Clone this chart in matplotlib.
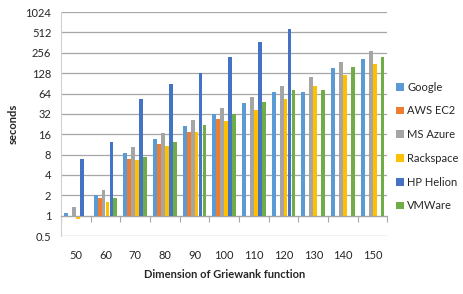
import numpy as np
import matplotlib
matplotlib.use('Agg')
import matplotlib.pyplot as plt
import matplotlib.ticker as ticker

plt.rcParams['font.family'] = ['Lato', 'DejaVu Sans']

# Data (nan = no bar)
dims = [50, 60, 70, 80, 90, 100, 110, 120, 130, 140, 150]
google = [1.09, 2.0, 8.4, 13.6, 21, 31.8, 45.8, 66.7, 66.7, 151, 205]
aws_ec2 = [0.97, 1.81, 7.0, 11.5, 17.4, 26.6, np.nan, np.nan, np.nan, np.nan, np.nan]
ms_azure = [1.33, 2.37, 10.3, 16.7, 26, 38.7, 56, 83.3, 112, 189, 269]
rackspace = [0.9, 1.61, 6.65, 10.8, 17.1, 25.1, 36.5, 53, 81.7, 119, 175]
hp_helion = [6.8, 12.1, 53, 87.5, 128, 224, 365, 575, np.nan, np.nan, np.nan]
vmware = [0.98, 1.81, 7.3, 12.2, 21.7, 31.4, 47.5, 72.8, 72.8, 158, 219]

series = [
    ('Google', google, '#5B9BD5'),
    ('AWS EC2', aws_ec2, '#ED7D31'),
    ('MS Azure', ms_azure, '#A5A5A5'),
    ('Rackspace', rackspace, '#FFC000'),
    ('HP Helion', hp_helion, '#4472C4'),
    ('VMWare', vmware, '#70AD47'),
]
yticks = [0.5, 1, 2, 4, 8, 16, 32, 64, 128, 256, 512, 1024]

fig = plt.figure(figsize=(4.64, 2.94), dpi=100)
ax = fig.add_axes([0.1315, 0.197, 0.7035, 0.762])

x = np.arange(len(dims))
width = 0.8 / len(series)
for i, (name, vals, color) in enumerate(series):
    vals = np.array(vals, dtype=float)
    # Excel-style: bars grow from the axis crossing at 1
    ax.bar(x + (i - 2.5) * width, vals - 1, bottom=1, width=width * 0.98,
           color=color, label=name, zorder=3)

ax.set_yscale('log', base=2)
ax.set_ylim(0.5, 1024)
ax.set_xlim(-0.5, len(dims) - 0.5)
ax.set_yticks(yticks)
ax.yaxis.set_major_formatter(ticker.FuncFormatter(lambda v, p: f'{v:g}'))
ax.yaxis.set_minor_locator(ticker.NullLocator())
ax.tick_params(axis='y', length=0, pad=7, labelsize=8, labelcolor='#262626')
ax.grid(True, axis='y', color='#a6a6a6', linewidth=0.9, zorder=0)

for s in ['top', 'right']:
    ax.spines[s].set_visible(False)
ax.spines['left'].set_color('#d0d0d0')
ax.spines['bottom'].set_position(('data', 1))
ax.spines['bottom'].set_color('#a6a6a6')
ax.spines['bottom'].set_zorder(4)

# category boundary ticks on the axis line at 1
ax.set_xticks(np.arange(len(dims) + 1) - 0.5)
ax.set_xticklabels([])
ax.tick_params(axis='x', length=4, color='#a6a6a6', direction='out')

# category labels at the bottom of the plot
sec = ax.secondary_xaxis('bottom')
sec.set_xticks(x)
sec.set_xticklabels([str(d) for d in dims])
sec.tick_params(length=0, pad=10, labelsize=8, labelcolor='#262626')
sec.spines['bottom'].set_visible(False)
sec.set_xlabel('Dimension of Griewank function', fontsize=8, fontweight='bold',
               labelpad=6, color='#262626')

ax.set_ylabel('seconds', fontsize=8, fontweight='bold', labelpad=5, color='#262626')

ax.legend(loc='center left', bbox_to_anchor=(1.0, 0.40), frameon=False, fontsize=8,
          handlelength=0.7, handleheight=0.7, handletextpad=0.3, labelspacing=1.15,
          labelcolor='#262626', borderaxespad=0.4)

fig.savefig('out.png', dpi=100, facecolor='white')
